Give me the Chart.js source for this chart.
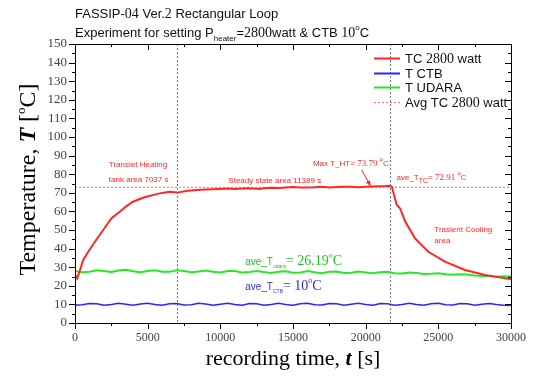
<!DOCTYPE html>
<html>
<head>
<meta charset="utf-8">
<script src="https://cdn.jsdelivr.net/npm/chart.js@4.4.1/dist/chart.umd.min.js"></script>
<style>
html, body { margin: 0; padding: 0; background: #fff; }
#wrap { width: 534px; height: 378px; }
</style>
</head>
<body>
<div id="wrap"><canvas id="chart"></canvas></div>
<script>
// TC 2800 watt (red)
const tcTime = [0, 158, 342, 570, 910, 1370, 1940, 2510, 3080, 3500, 3990, 4500, 4910, 5400, 5820, 6500, 7037, 7760, 8600, 9000, 9930, 10500, 11000, 11500, 12000, 12670, 13000, 13500, 14000, 14500, 15000, 15500, 16000, 16500, 17000, 17500, 18000, 18500, 19000, 19500, 20000, 20500, 21000, 21400, 21650, 21800, 21920, 22140, 22250, 22370, 22720, 23400, 24310, 25460, 26830, 28200, 29000, 30000];
const tcTemp = [26, 24, 28.5, 33.9, 38.3, 43.7, 50, 56.3, 59.8, 62.6, 65.2, 66.8, 67.9, 68.9, 69.7, 70.6, 70.1, 71.1, 71.6, 71.8, 72.1, 72.3, 72.1, 72.3, 72.4, 72.1, 72.5, 72.7, 72.6, 72.9, 73.1, 72.8, 72.9, 73.0, 73.2, 72.9, 73.1, 73.3, 73.2, 73.0, 73.3, 73.4, 73.5, 73.6, 73.79, 73.3, 69.7, 63.4, 62.6, 61.6, 54.5, 45.5, 38.3, 33, 28.5, 25.8, 24.8, 23.5];

// T CTB (blue) and T UDARA (green), sampled every 500 s
const sampleTime = [0, 500, 1000, 1500, 2000, 2500, 3000, 3500, 4000, 4500, 5000, 5500, 6000, 6500, 7000, 7500, 8000, 8500, 9000, 9500, 10000, 10500, 11000, 11500, 12000, 12500, 13000, 13500, 14000, 14500, 15000, 15500, 16000, 16500, 17000, 17500, 18000, 18500, 19000, 19500, 20000, 20500, 21000, 21500, 22000, 22500, 23000, 23500, 24000, 24500, 25000, 25500, 26000, 26500, 27000, 27500, 28000, 28500, 29000, 29500, 30000];
const ctbTemp = [9.6, 9.8, 10.5, 10.4, 9.6, 10.0, 10.6, 10.1, 9.5, 10.2, 10.6, 9.9, 9.6, 10.4, 10.5, 9.7, 9.8, 10.6, 10.2, 9.5, 10.1, 10.6, 9.9, 9.6, 10.5, 10.4, 9.6, 10.0, 10.6, 10.0, 9.5, 10.3, 10.6, 9.8, 9.7, 10.5, 10.3, 9.5, 10.1, 10.6, 9.9, 9.6, 10.5, 10.4, 9.6, 10.0, 10.6, 10.0, 9.5, 10.3, 10.6, 9.8, 9.7, 10.5, 10.3, 9.6, 10.1, 10.5, 9.9, 9.6, 9.4];
const udaraTemp = [28.0, 27.3, 27.6, 28.3, 27.9, 27.4, 28.2, 28.6, 27.8, 27.3, 27.9, 28.3, 27.6, 27.5, 28.4, 28.0, 27.3, 27.7, 28.2, 27.5, 27.1, 27.9, 28.0, 27.2, 27.4, 28.0, 27.4, 26.9, 27.6, 27.8, 27.0, 27.2, 27.9, 27.3, 26.8, 27.5, 27.7, 26.9, 27.0, 27.7, 27.2, 26.7, 27.3, 27.5, 26.8, 26.6, 27.2, 26.9, 26.3, 26.5, 26.8, 26.2, 25.9, 26.2, 26.1, 25.6, 25.3, 25.4, 24.9, 25.1, 25.0];

const avgTC = 72.91;
const regionLines = [7037, 21650];   // heating / cooling boundaries
const xMax = 30000, xStep = 5000;
const yMax = 150, yStep = 10;
const legendLabels = ['TC 2800 watt', 'T CTB', 'T UDARA', 'Avg TC 2800 watt'];

const SANS = '"Liberation Sans", Arial, sans-serif';
const SERIF = '"Liberation Serif", "Times New Roman", serif';
const RED = '#ff2626', BLUE = '#2626ff', GREEN = '#26e826';

function xy(xs, ys) {
    return xs.map((x, i) => ({ x: x, y: ys[i] }));
}

// draw a row of text pieces with their own fonts (for sub/superscripts)
function drawRuns(ctx, x, y, runs, align) {
    let w = 0;
    runs.forEach(r => { ctx.font = r[1]; w += ctx.measureText(r[0]).width; });
    let cx = align === 'center' ? x - w / 2 : x;
    runs.forEach(r => {
        ctx.font = r[1];
        ctx.fillText(r[0], cx, y + (r[2] || 0));
        cx += ctx.measureText(r[0]).width;
    });
}

const decorations = {
    id: 'decorations',
    beforeDatasetsDraw(chart) {
        const ctx = chart.ctx, a = chart.chartArea, xs = chart.scales.x;
        ctx.save();
        ctx.strokeStyle = '#777';
        ctx.lineWidth = 1;
        ctx.setLineDash([2, 2]);
        regionLines.forEach(v => {
            const px = Math.round(xs.getPixelForValue(v)) + 0.5;
            ctx.beginPath();
            ctx.moveTo(px, a.top);
            ctx.lineTo(px, a.bottom);
            ctx.stroke();
        });
        ctx.restore();
    },
    afterDraw(chart) {
        const ctx = chart.ctx, a = chart.chartArea, xs = chart.scales.x, ys = chart.scales.y;
        const X = v => xs.getPixelForValue(v), Y = v => ys.getPixelForValue(v);
        ctx.save();

        // frame
        ctx.strokeStyle = '#000';
        ctx.lineWidth = 1;
        ctx.setLineDash([]);
        ctx.strokeRect(Math.round(a.left) + 0.5, Math.round(a.top) + 0.5, Math.round(a.right - a.left), Math.round(a.bottom - a.top));

        // ticks: outward left/bottom, inward top/right, with minors
        ctx.beginPath();
        for (let v = 0; v <= yMax; v += yStep / 2) {
            const py = Math.round(Y(v)) + 0.5;
            const len = v % yStep === 0 ? 6 : 3;
            ctx.moveTo(a.left, py); ctx.lineTo(a.left - len, py);
            ctx.moveTo(a.right, py); ctx.lineTo(a.right - len, py);
        }
        for (let v = 0; v <= xMax; v += xStep / 2) {
            const px = Math.round(X(v)) + 0.5;
            const len = v % xStep === 0 ? 6 : 3;
            ctx.moveTo(px, a.bottom); ctx.lineTo(px, a.bottom + len);
            ctx.moveTo(px, a.top); ctx.lineTo(px, a.top + len);
        }
        ctx.stroke();

        ctx.textBaseline = 'alphabetic';
        ctx.textAlign = 'left';

        // chart title
        ctx.fillStyle = '#111';
        drawRuns(ctx, a.left, 18, [
            ['FASSIP-', '13px ' + SANS], ['04', '14px ' + SERIF], [' Ver.', '13px ' + SANS],
            ['2', '14px ' + SERIF], [' Rectangular Loop', '13px ' + SANS]
        ]);
        drawRuns(ctx, a.left, 37, [
            ['Experiment for setting P', '13px ' + SANS], ['heater', '8px ' + SANS, 4],
            ['=', '13px ' + SANS], ['2800', '14px ' + SERIF], ['watt & CTB ', '13px ' + SANS],
            ['10', '14px ' + SERIF], ['o', '8px ' + SANS, -7], ['C', '13px ' + SANS]
        ]);

        // axis titles
        ctx.fillStyle = '#000';
        drawRuns(ctx, (a.left + a.right) / 2, 365, [
            ['recording time, ', '22px ' + SERIF], ['t', 'bold italic 22px ' + SERIF], [' [s]', '22px ' + SERIF]
        ], 'center');
        ctx.save();
        ctx.translate(35, (a.top + a.bottom) / 2 - 4);
        ctx.rotate(-Math.PI / 2);
        drawRuns(ctx, 0, 0, [
            ['Temperature, ', '24px ' + SERIF], ['T', 'bold italic 24px ' + SERIF], [' [', '24px ' + SERIF],
            ['o', '13px ' + SERIF, -10], ['C]', '24px ' + SERIF]
        ], 'center');
        ctx.restore();

        // legend
        const ds = chart.data.datasets;
        legendLabels.forEach((label, i) => {
            const py = a.top + 14 + i * 14.7;
            ctx.strokeStyle = ds[i].borderColor;
            ctx.lineWidth = i === 3 ? 1 : 2;
            ctx.setLineDash(ds[i].borderDash || []);
            ctx.beginPath();
            ctx.moveTo(a.right - 137, Math.round(py) + 0.5);
            ctx.lineTo(a.right - 111, Math.round(py) + 0.5);
            ctx.stroke();
            ctx.fillStyle = '#111';
            const parts = label.split('2800');
            const runs = [[parts[0], '13px ' + SANS]];
            if (parts.length > 1) runs.push(['2800', '14px ' + SERIF], [parts[1], '13px ' + SANS]);
            drawRuns(ctx, a.right - 106, py + 5, runs);
        });
        ctx.setLineDash([]);

        // red notes
        ctx.fillStyle = RED;
        const small = '8px ' + SANS;
        drawRuns(ctx, X(2330), Y(83.9), [['Transiet Heating', small]]);
        drawRuns(ctx, X(2330), Y(75.8), [['tank area 7037 s', small]]);
        drawRuns(ctx, X(10550), Y(75.3), [['Steady state area 11389 s', small]]);
        drawRuns(ctx, X(16370), Y(84.4), [
            ['Max T_HT= ', small], ['73.79', '9px ' + SERIF], [' ', small], ['o', '6px ' + SANS, -5], ['C', small]
        ]);
        drawRuns(ctx, X(22120), Y(76.9), [
            ['ave_T', small], ['TC', '7px ' + SANS, 3], ['= ', small], ['72.91', '9px ' + SERIF],
            [' ', small], ['o', '6px ' + SANS, -5], ['C', small]
        ]);
        drawRuns(ctx, X(24725), Y(48.9), [['Trasient Cooling', small]]);
        drawRuns(ctx, X(24725), Y(43.0), [['area', small]]);

        // arrow to max point
        const x1 = X(19725), y1 = Y(82.3), x2 = X(20340), y2 = Y(73.6);
        ctx.strokeStyle = RED;
        ctx.lineWidth = 1;
        ctx.beginPath(); ctx.moveTo(x1, y1); ctx.lineTo(x2, y2); ctx.stroke();
        const ang = Math.atan2(y2 - y1, x2 - x1);
        ctx.beginPath();
        ctx.moveTo(x2, y2);
        ctx.lineTo(x2 - 6 * Math.cos(ang - 0.4), y2 - 6 * Math.sin(ang - 0.4));
        ctx.lineTo(x2 - 6 * Math.cos(ang + 0.4), y2 - 6 * Math.sin(ang + 0.4));
        ctx.closePath();
        ctx.fill();

        // average notes
        ctx.fillStyle = '#22c322';
        drawRuns(ctx, X(11710), Y(31.2), [
            ['ave_T', '10px ' + SANS], ['udara', '5px ' + SANS, 3], ['= 26.19', '14px ' + SERIF],
            ['o', '8px ' + SERIF, -7], ['C', '14px ' + SERIF]
        ]);
        ctx.fillStyle = '#3030c8';
        drawRuns(ctx, X(11710), Y(17.7), [
            ['ave_T', '10px ' + SANS], ['CTB', '5px ' + SANS, 3], ['= 10', '14px ' + SERIF],
            ['o', '8px ' + SERIF, -7], ['C', '14px ' + SERIF]
        ]);

        ctx.restore();
    }
};

new Chart(document.getElementById('chart'), {
    type: 'line',
    data: {
        datasets: [
            { label: legendLabels[0], data: xy(tcTime, tcTemp), borderColor: RED, borderWidth: 2, pointRadius: 0 },
            { label: legendLabels[1], data: xy(sampleTime, ctbTemp), borderColor: BLUE, borderWidth: 1.5, pointRadius: 0 },
            { label: legendLabels[2], data: xy(sampleTime, udaraTemp), borderColor: GREEN, borderWidth: 2, pointRadius: 0 },
            { label: legendLabels[3], data: [{ x: 0, y: avgTC }, { x: xMax, y: avgTC }], borderColor: '#ff7070', borderWidth: 1, borderDash: [2, 2], pointRadius: 0 }
        ]
    },
    options: {
        responsive: true,
        maintainAspectRatio: false,
        animation: false,
        events: [],
        layout: { padding: { top: 44, right: 21, left: 0, bottom: 0 } },
        plugins: { legend: { display: false }, tooltip: { enabled: false } },
        scales: {
            x: {
                type: 'linear', min: 0, max: xMax,
                border: { display: false },
                grid: { display: false, drawTicks: false },
                ticks: { stepSize: xStep, padding: 8, maxRotation: 0, autoSkip: false, color: '#444', font: { family: SERIF, size: 12 }, callback: v => String(v) },
                afterFit: s => { s.height = 55; }
            },
            y: {
                min: 0, max: yMax,
                border: { display: false },
                grid: { display: false, drawTicks: false },
                ticks: { stepSize: yStep, padding: 8, autoSkip: false, color: '#444', font: { family: SERIF, size: 13 } },
                afterFit: s => { s.width = 75; }
            }
        }
    },
    plugins: [decorations]
});
</script>
</body>
</html>
